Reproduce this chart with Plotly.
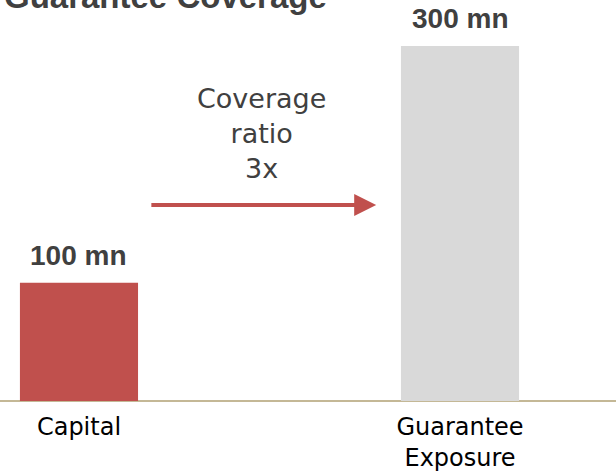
import plotly.graph_objects as go

categories = ["Capital", "Guarantee Exposure"]
tick_labels = ["Capital", "Guarantee<br>Exposure"]
values = [100, 300]
value_suffix = " mn"
title_text = "Guarantee Coverage"
ratio_text = "Coverage<br>ratio<br>3x"

bar_colors = ["#C0504D", "#D9D9D9"]
xpos = list(range(len(categories)))

fig = go.Figure()
fig.add_trace(go.Bar(
    x=xpos, y=values, width=0.31,
    marker=dict(color=bar_colors, line=dict(width=0)),
    hoverinfo="skip",
))

label_font = dict(family="Liberation Sans, Arial, sans-serif", size=28, color="#404040")
for xi, v in zip(xpos, values):
    fig.add_annotation(x=xi, y=v, xref="x", yref="y", text=f"<b>{v}{value_suffix}</b>",
                       showarrow=False, yanchor="bottom", yshift=10, font=label_font)

# title (cut off at top)
fig.add_annotation(x=0, y=1, xref="paper", yref="paper", xanchor="left", yanchor="middle",
                   yshift=4, xshift=2, text=f"<b>{title_text}</b>", showarrow=False,
                   font=dict(family="Liberation Sans, Arial, sans-serif", size=33, color="#404040"))

# coverage ratio text
fig.add_annotation(x=0.48, y=226, xref="x", yref="y", text=ratio_text, showarrow=False,
                   yanchor="middle", align="center",
                   font=dict(family="DejaVu Sans, sans-serif", size=27, color="#404040"))

# arrow
fig.add_annotation(x=0.78, y=165.6, ax=0.186, ay=165.6, xref="x", yref="y",
                   axref="x", ayref="y", text="", showarrow=True, arrowhead=2,
                   arrowsize=1.1, arrowwidth=4, arrowcolor="#C0504D", standoff=0)

fig.update_layout(
    width=616, height=472,
    margin=dict(l=0, r=0, t=0, b=71, autoexpand=False),
    paper_bgcolor="white", plot_bgcolor="white",
    showlegend=False,
    xaxis=dict(range=[-0.2073, 1.4094], tickmode="array", tickvals=xpos, ticktext=tick_labels,
               showgrid=False, zeroline=False, showline=False, ticks="",
               ticklabelstandoff=9, automargin=False,
               tickfont=dict(family="DejaVu Sans, sans-serif", size=24, color="#000000"), fixedrange=True),
    yaxis=dict(range=[0, 338.9], showgrid=False, zeroline=True, zerolinecolor="#C4B896",
               zerolinewidth=1.5, showticklabels=False, ticks="", showline=False, fixedrange=True),
)

fig.write_html("out.html", config={"displayModeBar": False})
